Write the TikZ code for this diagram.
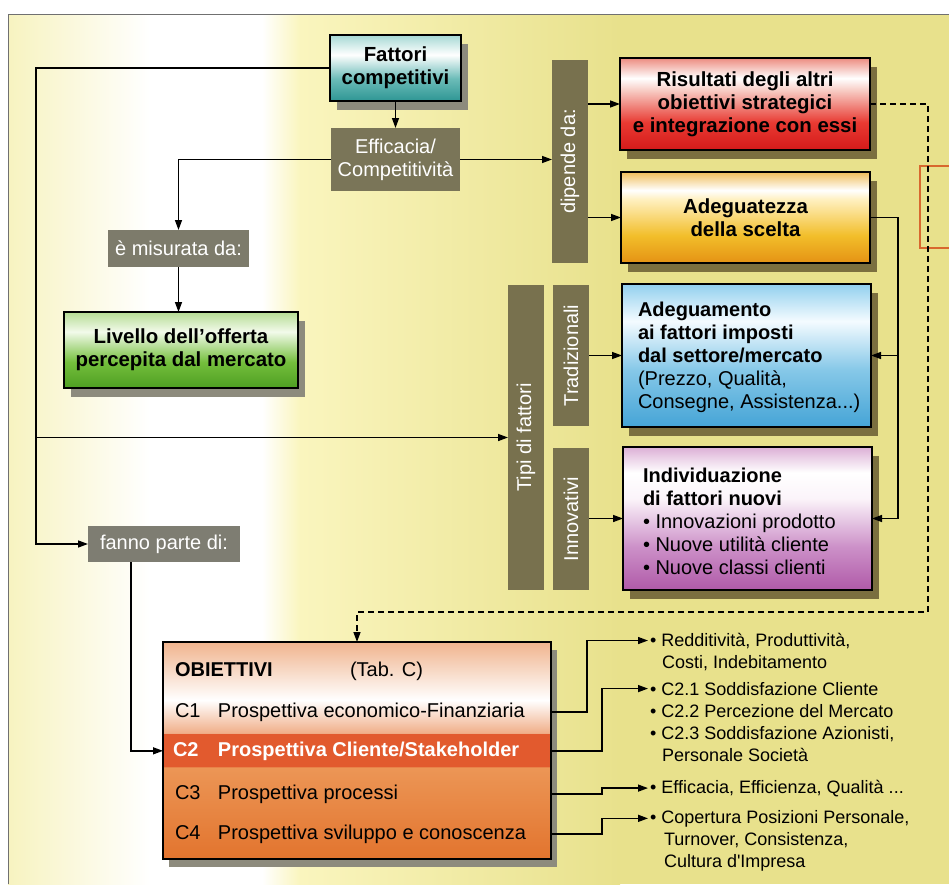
\documentclass[tikz,border=0pt]{standalone}
\usepackage{fontspec}
\setmainfont{Liberation Sans}
\usetikzlibrary{arrows.meta,shadows,calc}
\definecolor{bgL}{HTML}{F7F3C0}
\definecolor{bgA}{HTML}{FAF5BE}
\definecolor{bgB}{HTML}{E8E18C}
\definecolor{framec}{HTML}{707070}
\definecolor{orline}{HTML}{D8682E}
\definecolor{shadowG}{HTML}{8D8B7D}
\definecolor{shadowY}{HTML}{7B6F3F}
\definecolor{effc}{HTML}{7A7558}
\definecolor{misc}{HTML}{7D7B6B}
\definecolor{fanc}{HTML}{7E7D72}
\definecolor{barc}{HTML}{78714E}
\definecolor{tealD}{HTML}{2E9694}
\definecolor{tealM}{HTML}{6CBCB8}
\definecolor{tealL}{HTML}{A6D8D4}
\definecolor{redD}{HTML}{D41A1A}
\definecolor{redM}{HTML}{E83A32}
\definecolor{redP}{HTML}{F7C8C0}
\definecolor{redT}{HTML}{EC8C80}
\definecolor{oraD}{HTML}{E49214}
\definecolor{oraM}{HTML}{F2BE2A}
\definecolor{oraP}{HTML}{FFF0C0}
\definecolor{oraT}{HTML}{EFBD5A}
\definecolor{bluD}{HTML}{45A4D6}
\definecolor{bluM}{HTML}{86C8E8}
\definecolor{bluP}{HTML}{F4FBFF}
\definecolor{bluT}{HTML}{92D0EE}
\definecolor{pnkD}{HTML}{B05AA8}
\definecolor{pnkM}{HTML}{CC90C8}
\definecolor{pnkP}{HTML}{FBF4FA}
\definecolor{pnkT}{HTML}{DCB0D6}
\definecolor{grnD}{HTML}{4E9E22}
\definecolor{grnM}{HTML}{74BF3C}
\definecolor{grnP}{HTML}{F2FAEA}
\definecolor{grnT}{HTML}{B6DC94}
\definecolor{objD}{HTML}{E2742E}
\definecolor{objM}{HTML}{EC9656}
\definecolor{objR}{HTML}{E25A2E}
\definecolor{objL}{HTML}{F0AE88}
\definecolor{objT}{HTML}{F0B48E}
\pgfdeclareverticalshading{shTeal}{100bp}{color(0bp)=(tealD); color(25bp)=(tealD); color(42bp)=(tealM); color(60bp)=(white); color(75bp)=(tealL); color(100bp)=(tealL)}
\pgfdeclareverticalshading{shRed}{100bp}{color(0bp)=(redD); color(25bp)=(redD); color(40bp)=(redM); color(57bp)=(redP); color(64bp)=(white); color(75bp)=(redT); color(100bp)=(redT)}
\pgfdeclareverticalshading{shOrange}{100bp}{color(0bp)=(oraD); color(25bp)=(oraD); color(40bp)=(oraM); color(60bp)=(oraP); color(65bp)=(white); color(75bp)=(oraT); color(100bp)=(oraT)}
\pgfdeclareverticalshading{shBlue}{100bp}{color(0bp)=(bluD); color(25bp)=(bluD); color(45bp)=(bluM); color(62bp)=(bluP); color(75bp)=(bluT); color(100bp)=(bluT)}
\pgfdeclareverticalshading{shPink}{100bp}{color(0bp)=(pnkD); color(25bp)=(pnkD); color(40bp)=(pnkM); color(57bp)=(pnkP); color(66bp)=(white); color(75bp)=(pnkT); color(100bp)=(pnkT)}
\pgfdeclareverticalshading{shGreen}{100bp}{color(0bp)=(grnD); color(25bp)=(grnD); color(42bp)=(grnM); color(62bp)=(grnP); color(75bp)=(grnT); color(100bp)=(grnT)}
\pgfdeclareverticalshading{shObj}{100bp}{color(0bp)=(objD); color(25bp)=(objD); color(46.2bp)=(objM); color(46.3bp)=(objR); color(53.9bp)=(objR); color(54bp)=(objL); color(61.6bp)=(white); color(75bp)=(objT); color(100bp)=(objT)}
\begin{document}
\begin{tikzpicture}[x=1pt,y=-1pt,
  every node/.style={inner sep=0pt, outer sep=0pt, font=\fontsize{20}{23}\selectfont},
  box/.style={draw=black, line width=2.2pt, shade, align=center, font=\fontsize{20.4}{23}\selectfont\bfseries},
  shg/.style={general shadow={shadow xshift=7pt, shadow yshift=-9pt, fill=shadowG}},
  shy/.style={general shadow={shadow xshift=7pt, shadow yshift=-9pt, fill=shadowY}},
  tag/.style={fill=#1, text=white, align=center},
  bar/.style={fill=barc, text=white, rotate=90, minimum height=36pt},
  conn/.style={line width=1.4pt, -{Triangle[length=10pt,width=7pt]}},
  link/.style={line width=1.4pt},
  dconn/.style={line width=1.3pt, dash pattern=on 6pt off 4pt, -{Triangle[length=10pt,width=7pt]}},
  txt/.style={anchor=base west},
  rtxt/.style={anchor=base west, font=\fontsize{18}{22}\selectfont},
]
\useasboundingbox (0,0) rectangle (949,884);
% background
\fill[white] (0,0) rectangle (949,884);
\shade[left color=bgL, right color=white] (8,14) rectangle (150,884);
\shade[left color=white, right color=bgA] (262,14) rectangle (300,884);
\shade[left color=bgA, right color=bgB] (300,14) rectangle (620,884);
\fill[bgB] (620,14) rectangle (949,884);
\draw[framec, line width=0.8pt] (8,884) -- (8,14) -- (949,14);
\draw[orline, line width=1.2pt] (952,166) -- (920,166) -- (920,248) -- (952,248);

% left column
\node[box, shg, shading=shTeal, minimum width=131pt, minimum height=66pt] (fat) at (395.5,68) {Fattori\\competitivi};
\node[tag=effc, minimum width=129pt, minimum height=63pt] (eff) at (395.5,159.5) {Efficacia/\\Competitività};
\node[tag=misc, minimum width=141pt, minimum height=37pt] (mis) at (178.5,248.5) {è misurata da:};
\node[box, shg, shading=shGreen, minimum width=234pt, minimum height=76pt] (liv) at (181,350) {Livello dell’offerta\\percepita dal mercato};
\node[tag=fanc, minimum width=152pt, minimum height=36pt] (fan) at (164,544) {fanno parte di:};

% bars
\node[bar, minimum width=203pt] (dip) at (570,161.5) {dipende da:};
\node[bar, minimum width=305pt] (tip) at (526,437.5) {Tipi di fattori};
\node[bar, minimum width=141pt] (tra) at (571,355.5) {Tradizionali};
\node[bar, minimum width=142pt] (inn) at (571,519) {Innovativi};

% right boxes
\node[box, shy, shading=shRed, minimum width=250pt, minimum height=92pt] (ris) at (745,104) {Risultati degli altri\\obiettivi strategici\\e integrazione con essi};
\node[box, shy, shading=shOrange, minimum width=249pt, minimum height=91pt] (ade) at (745.5,217.5) {Adeguatezza\\della scelta};
\node[box, shy, shading=shBlue, minimum width=249pt, minimum height=143pt] (adg) at (746.5,355.5) {};
\node[anchor=west, align=left] (adgt) at (638,357) {\textbf{Adeguamento}\\\textbf{ai fattori imposti}\\\textbf{dal settore/mercato}\\(Prezzo, Qualità,\\Consegne, Assistenza...)};
\node[box, shy, shading=shPink, minimum width=249pt, minimum height=143pt] (ind) at (747.5,518.5) {};
\node[anchor=west, align=left] (indt) at (643,521) {\textbf{Individuazione}\\\textbf{di fattori nuovi}\\\textbullet\ Innovazioni prodotto\\\textbullet\ Nuove utilità cliente\\\textbullet\ Nuove classi clienti};

% objectives box
\node[draw=black, line width=2.2pt, shade, shading=shObj, general shadow={shadow xshift=6pt, shadow yshift=-8pt, fill=shadowG}, minimum width=388pt, minimum height=217pt] (obj) at (357,750.5) {};
\node[txt] (hdr) at (175,676) {\makebox[175pt][l]{\bfseries OBIETTIVI}(Tab. C)};
\node[txt] (c1) at (175,717) {\makebox[43pt][l]{C1}Prospettiva economico-Finanziaria};
\node[txt, text=white, font=\fontsize{20}{23}\selectfont\bfseries] (c2) at (173,756) {\makebox[45pt][l]{C2}Prospettiva Cliente/Stakeholder};
\node[txt] (c3) at (175,799) {\makebox[43pt][l]{C3}Prospettiva processi};
\node[txt] (c4) at (175,839) {\makebox[43pt][l]{C4}Prospettiva sviluppo e conoscenza};

% right texts
\node[rtxt] (t1) at (650,646) {\textbullet\ Redditività, Produttività,};
\node[rtxt] (t1b) at (662,668) {Costi, Indebitamento};
\node[rtxt] (t2) at (650,695) {\textbullet\ C2.1 Soddisfazione Cliente};
\node[rtxt] (t2b) at (650,717) {\textbullet\ C2.2 Percezione del Mercato};
\node[rtxt] (t2c) at (650,739) {\textbullet\ C2.3 Soddisfazione Azionisti,};
\node[rtxt] (t2d) at (662,761) {Personale Società};
\node[rtxt] (t3) at (650,793) {\textbullet\ Efficacia, Efficienza, Qualità ...};
\node[rtxt] (t4) at (650,823) {\textbullet\ Copertura Posizioni Personale,};
\node[rtxt] (t4b) at (664,845) {Turnover, Consistenza,};
\node[rtxt] (t4c) at (664,867) {Cultura d\textquotesingle Impresa};

% connectors
\coordinate (lx) at (36,0);
\coordinate (rj) at ($(ade.east)+(28,0)$);
\draw[conn] (fat.south) -- (eff.north);
\draw[conn] (eff.west) -| (mis.north);
\draw[conn] (mis.south) -- (mis.south |- liv.north);
\draw[conn] (eff.east) -- (eff.east -| dip.north);
\draw[conn] (dip.south |- ris.west) -- (ris.west);
\draw[conn] (dip.south |- ade.west) -- (ade.west);
\draw[conn] (fat.west) -- (fat.west -| lx) |- (fan.west);
\draw[conn] (lx |- tip.north) -- (tip.north);
\draw[conn] (tra.south |- adg.west) -- (adg.west);
\draw[conn] (inn.south |- ind.west) -- (ind.west);
\draw[link] (ade.east) -- (rj) -- (rj |- ind.east);
\draw[conn] (rj |- adg.east) -- (adg.east);
\draw[conn] (rj |- ind.east) -- (ind.east);
\draw[dconn] (ris.east) -- ++(58,0) |- ($(obj.north)+(0,-30)$) -- (obj.north);
\draw[conn] ([xshift=-33pt]fan.south) |- (obj.west |- c2);
\draw[conn, shorten >=2pt] (obj.east |- c1) -- ++(36,0) |- (t1.west);
\draw[conn, shorten >=2pt] (obj.east |- c2) -- ++(51,0) |- (t2.west);
\draw[conn, shorten >=2pt] (obj.east |- c3) -- ++(51,0) |- (t3.west);
\draw[conn, shorten >=2pt] (obj.east |- c4) -- ++(51,0) |- (t4.west);
\end{tikzpicture}
\end{document}
